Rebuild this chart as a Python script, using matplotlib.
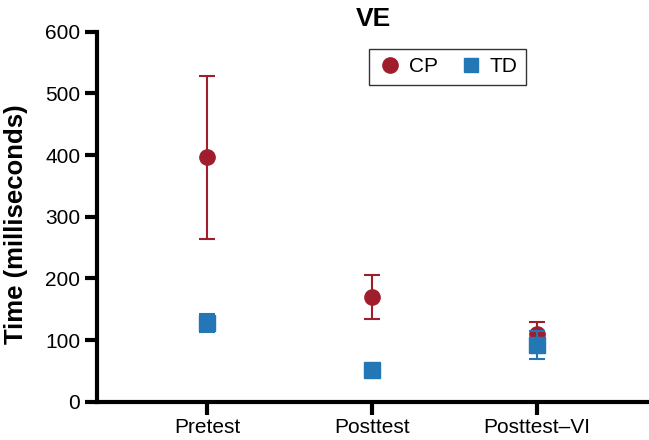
import numpy as np
import matplotlib.pyplot as plt
from matplotlib.lines import Line2D

plt.rcParams['font.family'] = ['Liberation Sans', 'DejaVu Sans']

# Datos
grupos = ['Pretest', 'Posttest', 'Posttest\u2013VI']
cp_media = np.array([396, 170, 110])
cp_err = np.array([132, 36, 20])
td_media = np.array([128, 52, 92])
td_err = np.array([15, 2, 22])

rojo = '#a01d2d'
azul = '#2277b4'

x = np.arange(1, len(grupos) + 1)

fig = plt.figure(figsize=(6.49, 4.40), dpi=100)
ax = fig.add_axes([97 / 649, 38.3 / 440, 552 / 649, 370 / 440])

ax.errorbar(x, cp_media, yerr=cp_err, fmt='o', color=rojo, ms=11,
            capsize=6, elinewidth=1.5, capthick=1.5, zorder=3)
ax.errorbar(x, td_media, yerr=td_err, fmt='s', color=azul, ms=11,
            capsize=6, elinewidth=1.5, capthick=1.5, zorder=4)

ax.set_xlim(0.33, 3.68)
ax.set_ylim(0, 600)
ax.set_yticks(np.arange(0, 601, 100))
ax.set_xticks(x)
ax.set_xticklabels(grupos)

for s in ['top', 'right']:
    ax.spines[s].set_visible(False)
for s in ['left', 'bottom']:
    ax.spines[s].set_linewidth(3)
ax.tick_params(width=3, length=9, labelsize=15, direction='out', pad=3)

ax.set_ylabel('Time (milliseconds)', fontsize=18.5, fontweight='bold')
ax.yaxis.set_label_coords(-0.125, 0.48)
ax.set_title('VE', fontsize=19, fontweight='bold', pad=4)

# Leyenda sin barras de error
handles = [Line2D([], [], marker='o', ls='none', color=rojo, ms=11),
           Line2D([], [], marker='s', ls='none', color=azul, ms=10)]
leg = ax.legend(handles, ['CP', 'TD'], loc='upper left',
                bbox_to_anchor=(0.493, 0.953), borderaxespad=0, ncol=2,
                fancybox=False, edgecolor='black', fontsize=15,
                handletextpad=0.3, columnspacing=1.0, handlelength=1.2)
leg.get_frame().set_linewidth(1.0)

fig.savefig('out.png', dpi=100)
